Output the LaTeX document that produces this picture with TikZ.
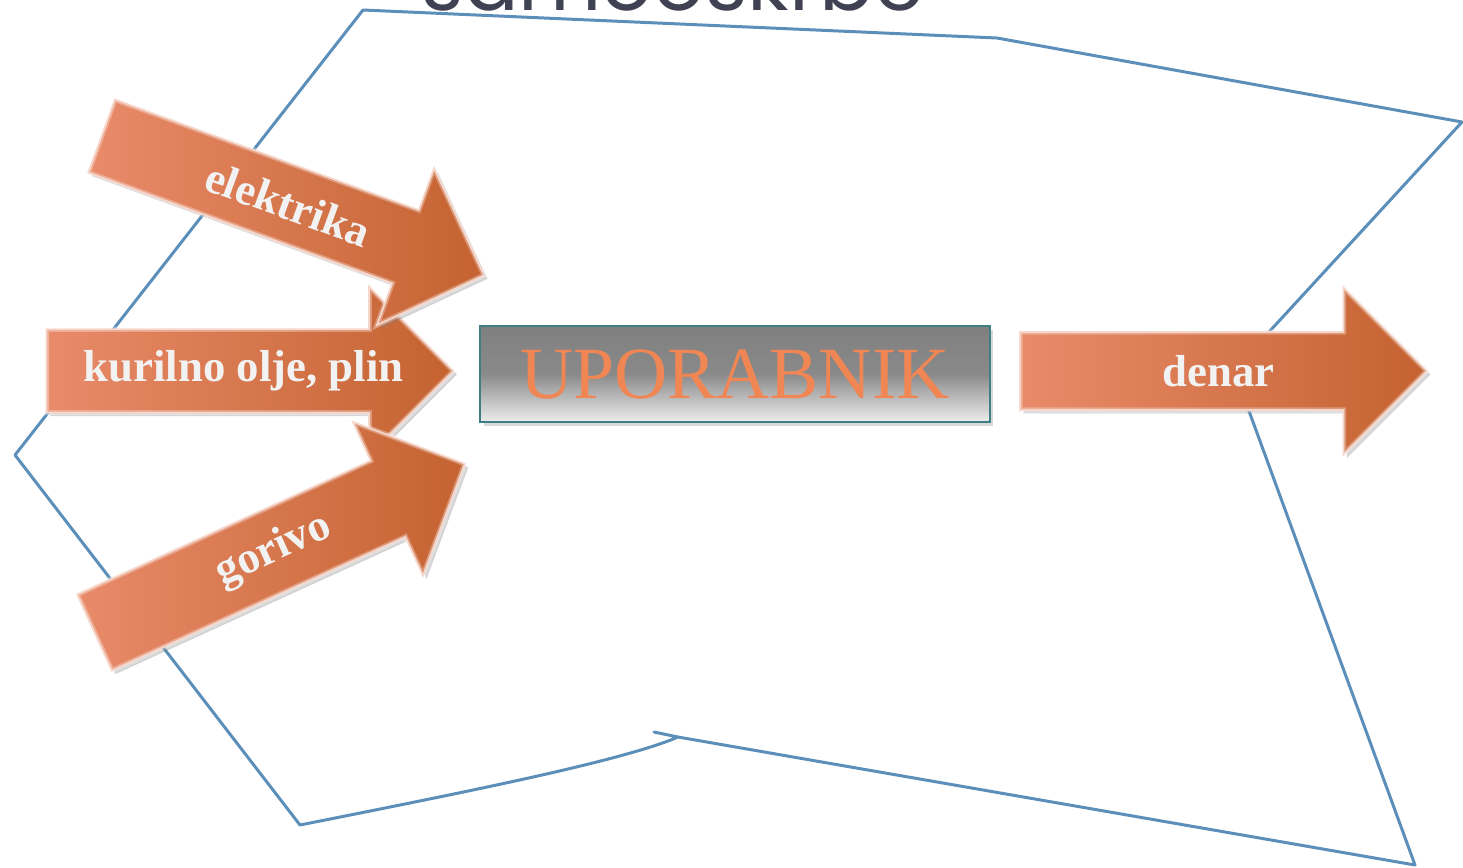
\documentclass[tikz,border=0pt]{standalone}
\usepackage{fontspec}
\setmainfont{Liberation Serif}
\newfontfamily\titlefont{Poppins}
\usetikzlibrary{shapes.arrows,shadows}
\definecolor{flowlight}{RGB}{233,139,106}
\definecolor{flowdark}{RGB}{196,98,48}
\definecolor{outline}{RGB}{91,143,185}
\definecolor{userframe}{RGB}{62,127,134}
\definecolor{usertext}{RGB}{240,134,84}
\definecolor{titleink}{RGB}{64,65,82}
\newcommand{\flowtext}[1]{\hspace*{0.36cm}#1\hspace*{-0.22cm}}

\begin{document}
\begin{tikzpicture}[x=0.02cm, y=-0.02cm,
  flow/.style={single arrow, single arrow head extend=0.85cm, minimum width=3.34cm, minimum height=8.14cm,
    inner xsep=0pt, inner ysep=0.41cm,
    left color=flowlight, right color=flowdark, draw=flowlight!50!white, line width=1pt,
    drop shadow={opacity=0.35, shadow xshift=2pt, shadow yshift=-2pt},
    postaction={draw=white, draw opacity=0.3, line width=3pt},
    text=white!95!black, font=\bfseries\fontsize{25.5}{30}\selectfont}]
  \useasboundingbox (0,0) rectangle (1463,867);
  \begin{scope}
    \clip (0,0) rectangle (1463,867);
    \node[anchor=base, text=titleink, font=\titlefont\fontsize{46}{50}\selectfont] (title) at (673,10) {samooskrbe};
  \end{scope}
  \draw[outline, line width=1.7pt, line join=round, line cap=round] (363,10) -- (997,38) -- (1462,122) -- (1234,370) -- (1415,865) -- (678,737) -- (654,732) -- (678,737) .. controls (620,762) and (450,795) .. (300,825) -- (15,455) -- cycle;
  \node[flow] (oil) at (229,371) {\flowtext{kurilno olje, plin}};
  \node[flow, rotate=-20] (power) at (274.5,199) {\flowtext{elektrika}};
  \node[flow, rotate=24.5] (fuel) at (260.6,556.8) {\flowtext{gorivo}};
  \node[draw=userframe, line width=1.5pt, minimum width=10.2cm, minimum height=1.92cm,
    top color=black!50, bottom color=black!7, middle color=black!46,
    drop shadow={opacity=0.3, shadow xshift=2pt, shadow yshift=-2pt},
    text=usertext, font=\fontsize{41.9}{46}\selectfont] (user) at (735,374) {UPORABNIK};
  \node[flow] (money) at (1204,371) {\flowtext{denar}};
\end{tikzpicture}
\end{document}
